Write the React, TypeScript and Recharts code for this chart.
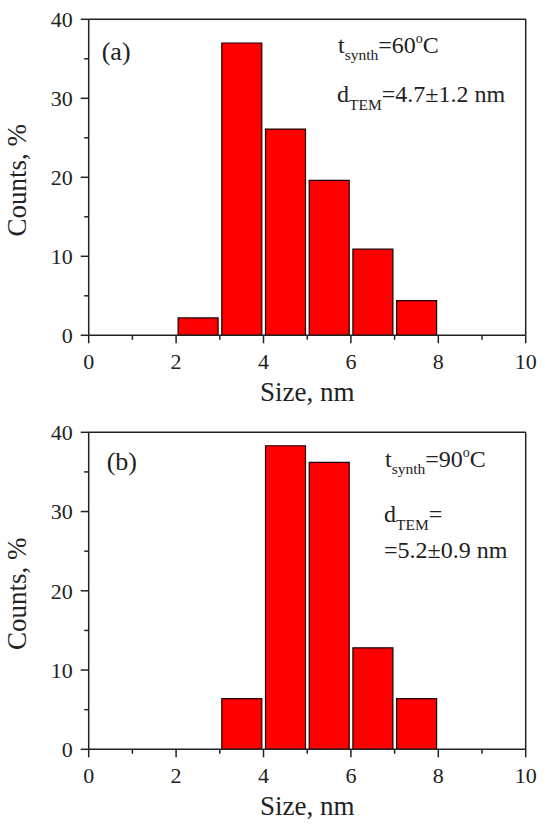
import React from 'react'
import { BarChart, Bar, XAxis, YAxis, ReferenceLine, Label } from 'recharts'

// bin centres (nm) and share of particles (%)
const sizeBinsA = [2.5, 3.5, 4.5, 5.5, 6.5, 7.5]
const countsA = [2.2, 37.0, 26.1, 19.6, 10.9, 4.4]

const sizeBinsB = [3.5, 4.5, 5.5, 6.5, 7.5]
const countsB = [6.4, 38.3, 36.2, 12.8, 6.4]

const xTicks = [0, 1, 2, 3, 4, 5, 6, 7, 8, 9, 10]
const yTicks = [0, 5, 10, 15, 20, 25, 30, 35, 40]

const FONT = '"Liberation Serif", "Times New Roman", serif'
const INK = '#222'
const TICK_SIZE = 8
const TICK_MARGIN = 10
const Y_TICK_MARGIN = 8

function XTick(props: any) {
  const { x, y, payload } = props
  const major = payload.value % 2 === 0
  const axisY = y - TICK_SIZE - TICK_MARGIN
  return (
    <g>
      <line x1={x} x2={x} y1={axisY} y2={axisY + (major ? 8 : 4.5)} stroke={INK} strokeWidth={1.5} />
      {major && (
        <text x={x} y={y} dy="0.71em" textAnchor="middle" fontSize={22} fill={INK} fontFamily={FONT}>
          {payload.value}
        </text>
      )}
    </g>
  )
}

function YTick(props: any) {
  const { x, y, payload } = props
  const major = payload.value % 10 === 0
  const axisX = x + TICK_SIZE + Y_TICK_MARGIN
  return (
    <g>
      <line x1={axisX} x2={axisX - (major ? 8 : 4.5)} y1={y} y2={y} stroke={INK} strokeWidth={1.5} />
      {major && (
        <text x={x} y={y} dy="0.35em" textAnchor="end" fontSize={22} fill={INK} fontFamily={FONT}>
          {payload.value}
        </text>
      )}
    </g>
  )
}

function Histogram({ bins, counts, height, axisHeight }: { bins: number[]; counts: number[]; height: number; axisHeight: number }) {
  const data = bins.map((x, i) => ({ x, counts: counts[i] }))
  return (
    <BarChart width={550} height={height} data={data} margin={{ top: 19.3, right: 24.3, left: 0, bottom: 0 }}>
      <XAxis
        dataKey="x"
        type="number"
        domain={[0, 10]}
        ticks={xTicks}
        interval={0}
        height={axisHeight}
        tickSize={TICK_SIZE}
        tickMargin={TICK_MARGIN}
        tickLine={false}
        tick={(p: any) => <XTick {...p} />}
        axisLine={{ stroke: INK, strokeWidth: 1.5 }}
      >
        <Label value="Size, nm" position="insideTop" offset={46.5} fontSize={27} fill={INK} fontFamily={FONT} />
      </XAxis>
      <YAxis
        type="number"
        domain={[0, 40]}
        ticks={yTicks}
        interval={0}
        width={88.7}
        tickSize={TICK_SIZE}
        tickMargin={Y_TICK_MARGIN}
        tickLine={false}
        tick={(p: any) => <YTick {...p} />}
        axisLine={{ stroke: INK, strokeWidth: 1.5 }}
      >
        <Label value="Counts, %" angle={-90} position="center" dx={-28.4} dy={3} fontSize={27} fill={INK} fontFamily={FONT} />
      </YAxis>
      <ReferenceLine y={40} stroke={INK} strokeWidth={1.5} />
      <ReferenceLine x={10} stroke={INK} strokeWidth={1.5} />
      <Bar dataKey="counts" barSize={40} fill="#ff0000" stroke="#1a0000" strokeWidth={1.2} isAnimationActive={false} />
    </BarChart>
  )
}

const txt = { fontFamily: FONT, fill: INK }

export default function App() {
  return (
    <div style={{ position: 'absolute', left: 0, top: 0, width: 550, height: 830, background: '#fff' }}>
      <div style={{ position: 'relative', width: 550, height: 413 }}>
        <Histogram bins={sizeBinsA} counts={countsA} height={413} axisHeight={77.7} />
        <svg width={550} height={413} style={{ position: 'absolute', left: 0, top: 0, pointerEvents: 'none' }}>
          <text x={101.7} y={60} fontSize={26} {...txt}>(a)</text>
          <text x={338} y={53.3} fontSize={24} {...txt}>
            t<tspan fontSize={15.5} dy={7}>synth</tspan>
            <tspan dy={-7}>=60</tspan>
            <tspan fontSize={14} dy={-10}>o</tspan>
            <tspan dy={10}>C</tspan>
          </text>
          <text x={337} y={101.7} fontSize={24} {...txt}>
            d<tspan fontSize={15.5} dy={8}>TEM</tspan>
            <tspan dy={-8}>=4.7±1.2 nm</tspan>
          </text>
        </svg>
      </div>
      <div style={{ position: 'relative', width: 550, height: 417 }}>
        <Histogram bins={sizeBinsB} counts={countsB} height={417} axisHeight={80.7} />
        <svg width={550} height={417} style={{ position: 'absolute', left: 0, top: 0, pointerEvents: 'none' }}>
          <text x={106.7} y={57.3} fontSize={26} {...txt}>(b)</text>
          <text x={385} y={53.7} fontSize={24} {...txt}>
            t<tspan fontSize={15.5} dy={7}>synth</tspan>
            <tspan dy={-7}>=90</tspan>
            <tspan fontSize={14} dy={-10}>o</tspan>
            <tspan dy={10}>C</tspan>
          </text>
          <text x={384} y={108.7} fontSize={24} {...txt}>
            d<tspan fontSize={15.5} dy={8}>TEM</tspan>
            <tspan dy={-8}>=</tspan>
          </text>
          <text x={384} y={145.3} fontSize={24} {...txt}>=5.2±0.9 nm</text>
        </svg>
      </div>
    </div>
  )
}
